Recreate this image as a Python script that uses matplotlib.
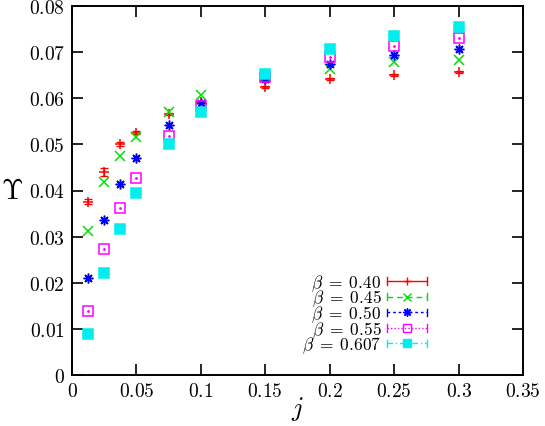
import matplotlib
matplotlib.use("Agg")
import matplotlib.pyplot as plt
from matplotlib.lines import Line2D
from matplotlib.legend_handler import HandlerLine2D
from matplotlib.ticker import MultipleLocator, FuncFormatter

plt.rcParams["mathtext.fontset"] = "cm"
plt.rcParams["font.family"] = "serif"
plt.rcParams["font.serif"] = ["DejaVu Serif"]

j = [0.0125, 0.025, 0.0375, 0.05, 0.075, 0.1, 0.15, 0.2, 0.25, 0.3]

ups_040 = [0.0376, 0.0440, 0.0501, 0.0525, 0.0566, 0.0592, 0.0625, 0.0642, 0.0651, 0.0657]
err_040 = [0.0005, 0.0008, 0.0004, 0.0003, 0.0002, 0.0002, 0.0002, 0.0002, 0.0002, 0.0002]
ups_045 = [0.0312, 0.0418, 0.0474, 0.0516, 0.0570, 0.0606, 0.0645, 0.0664, 0.0678, 0.0684]
ups_050 = [0.0211, 0.0337, 0.0415, 0.0470, 0.0541, 0.0590, 0.0642, 0.0675, 0.0693, 0.0706]
ups_055 = [0.0138, 0.0274, 0.0362, 0.0428, 0.0519, 0.0583, 0.0647, 0.0689, 0.0713, 0.0731]
ups_0607 = [0.0089, 0.0221, 0.0317, 0.0394, 0.0501, 0.0570, 0.0653, 0.0706, 0.0735, 0.0754]

labels = [r"$\beta\;=\;0.40$", r"$\beta\;=\;0.45$", r"$\beta\;=\;0.50$",
          r"$\beta\;=\;0.55$", r"$\beta\;=\;0.607$"]
series = [ups_040, ups_045, ups_050, ups_055, ups_0607]
errors = [err_040, None, None, None, None]
colors = ["#ff0000", "#00e000", "#0000ff", "#ff00ff", "#00eeee"]
markers = ["+", "x", (8, 2, 0), "s", "s"]
fills = ["full", "full", "full", "none", "full"]
msizes = [7.5, 6.5, 7, 6.5, 6.5]
lstyles = ["-", (0, (4, 3)), (0, (2, 2)), (0, (1, 1.5)), (0, (4, 2, 1, 2))]


class CapHandler(HandlerLine2D):
    """gnuplot-style key sample: line with end caps and marker in middle."""
    def create_artists(self, legend, orig_handle, xdescent, ydescent,
                       width, height, fontsize, trans):
        arts = super().create_artists(legend, orig_handle, xdescent, ydescent,
                                      width, height, fontsize, trans)
        yc = height / 2 - ydescent
        h = height * 0.3
        for x0 in (-xdescent, width - xdescent):
            cap = Line2D([x0, x0], [yc - h, yc + h], color=orig_handle.get_color(),
                         lw=1, transform=trans)
            arts.append(cap)
        return arts


fig = plt.figure(figsize=(5.45, 4.27), dpi=100)
ax = fig.add_axes([72 / 545, 51 / 427, 451 / 545, 369 / 427])

handles = []
for ys, err, c, m, f, ms, ls, lab in zip(series, errors, colors, markers,
                                         fills, msizes, lstyles, labels):
    ax.errorbar(j, ys, yerr=err, fmt="none", ecolor=c, elinewidth=1,
                capsize=3, capthick=1)
    ax.plot(j, ys, ls="none", marker=m, color=c, ms=ms, mew=1.1, fillstyle=f)
    if m == "s" and f == "none":
        ax.plot(j, ys, ls="none", marker=".", color=c, ms=2)
    handles.append(Line2D([], [], color=c, ls=ls, lw=1, marker=m, ms=ms * 0.85,
                          mew=1.0, fillstyle=f, label=lab))

ax.set_xlim(0, 0.35)
ax.set_ylim(0, 0.08)
ax.xaxis.set_major_locator(MultipleLocator(0.05))
ax.yaxis.set_major_locator(MultipleLocator(0.01))
fmt = FuncFormatter(lambda v, p: "$%g$" % round(v, 4))
ax.xaxis.set_major_formatter(fmt)
ax.yaxis.set_major_formatter(fmt)
ax.tick_params(direction="in", length=8, width=1.2, top=True, right=True,
               labelsize=14, pad=5)
for sp in ax.spines.values():
    sp.set_linewidth(1.4)

ax.set_xlabel(r"$j$", fontsize=19, labelpad=-4)
ax.set_ylabel(r"$\Upsilon$", fontsize=20, rotation=0, labelpad=12, va="center")

ax.legend(handles=handles, loc="lower right", markerfirst=False, frameon=False,
          fontsize=12.5, numpoints=1, handlelength=2.3, handletextpad=0.35,
          labelspacing=-0.28, borderpad=0,
          bbox_to_anchor=(436 / 545, 62 / 427), bbox_transform=fig.transFigure,
          handler_map={Line2D: CapHandler()})

fig.savefig("out.png", dpi=100)
